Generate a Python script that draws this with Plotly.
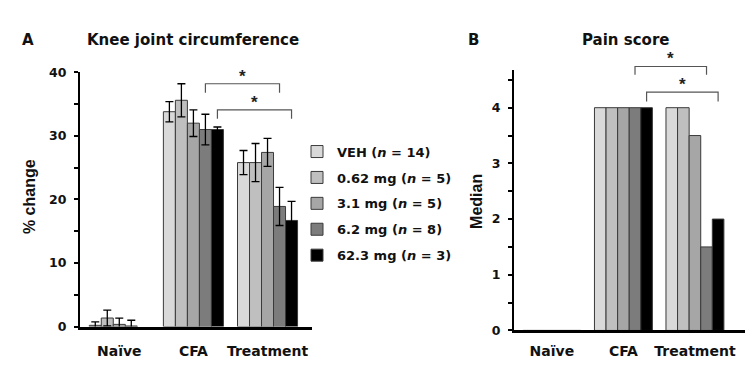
import plotly.graph_objects as go

W, H = 754, 372

groups = ["Naïve", "CFA", "Treatment"]
series_names = ["VEH (<i>n</i> = 14)", "0.62 mg (<i>n</i> = 5)", "3.1 mg (<i>n</i> = 5)",
                "6.2 mg (<i>n</i> = 8)", "62.3 mg (<i>n</i> = 3)"]
colors = ["#d9d9d9", "#bfbfbf", "#a6a6a6", "#7c7c7c", "#000000"]

# Panel A: knee joint circumference, % change (mean ± error)
knee_veh = [0.2, 33.8, 25.8]
knee_062 = [1.35, 35.6, 25.8]
knee_31 = [0.35, 32.0, 27.4]
knee_62 = [0.1, 31.0, 18.9]
knee_623 = [None, 31.0, 16.7]
knee_err_veh = [0.55, 1.6, 1.9]
knee_err_062 = [1.25, 2.6, 3.0]
knee_err_31 = [1.0, 2.1, 2.2]
knee_err_62 = [0.9, 2.4, 3.0]
knee_err_623 = [None, 0.4, 3.0]

# Panel B: pain score, median
pain_veh = [0, 4, 4]
pain_062 = [0, 4, 4]
pain_31 = [0, 4, 3.5]
pain_62 = [0, 4, 1.5]
pain_623 = [0, 4, 2]

knee_vals = [knee_veh, knee_062, knee_31, knee_62, knee_623]
knee_errs = [knee_err_veh, knee_err_062, knee_err_31, knee_err_62, knee_err_623]
pain_vals = [pain_veh, pain_062, pain_31, pain_62, pain_623]

# significance brackets: (series index, from group, to group, bracket height, drop)
knee_sig = [(3, 1, 2, 38.2, 1.4), (4, 1, 2, 34.1, 1.4)]
pain_sig = [(3, 1, 2, 4.74, 0.15), (4, 1, 2, 4.28, 0.17)]

FONT = "DejaVu Sans"
FONT_NARROW = "Liberation Sans"
BARGAP = 0.19
A_YMAX = 40
B_YMAX = 4.67

A_dom_x = [80 / W, 312 / W]
A_dom_y = [1 - 332 / H, 1 - 67 / H]
B_dom_x = [514 / W, 745 / W]
B_dom_y = [1 - 336 / H, 1 - 65 / H]

fig = go.Figure()

for i in range(5):
    fig.add_trace(go.Bar(
        x=groups, y=knee_vals[i], name=series_names[i],
        marker=dict(color=colors[i], line=dict(color="#3a3a3a", width=1)),
        error_y=dict(type="data", array=knee_errs[i], color="black", thickness=1.3, width=4),
        xaxis="x", yaxis="y", legendgroup=f"g{i}", showlegend=True,
    ))
for i in range(5):
    fig.add_trace(go.Bar(
        x=groups, y=pain_vals[i], name=series_names[i],
        marker=dict(color=colors[i], line=dict(color="#3a3a3a", width=1)),
        xaxis="x2", yaxis="y2", legendgroup=f"g{i}", showlegend=False,
    ))

bw = (1 - BARGAP) / 5


def bar_x(group, idx):
    return group + (idx - 2) * bw


def to_paper(v, ymax, dom):
    return dom[0] + v / ymax * (dom[1] - dom[0])


shapes = []
annotations = []
for (sig, xr, ymax, dom) in [(knee_sig, "x", A_YMAX, A_dom_y), (pain_sig, "x2", B_YMAX, B_dom_y)]:
    for (si, g0, g1, h, d) in sig:
        x0, x1 = bar_x(g0, si), bar_x(g1, si)
        yt = to_paper(h, ymax, dom)
        yb = to_paper(h - d, ymax, dom)
        path = f"M{x0},{yb} L{x0},{yt} L{x1},{yt} L{x1},{yb}"
        shapes.append(dict(type="path", path=path, xref=xr, yref="paper",
                           line=dict(color="#555555", width=1.2)))
        annotations.append(dict(x=(x0 + x1) / 2, y=yt, xref=xr, yref="paper",
                                text="*", showarrow=False, yanchor="bottom", yshift=-4,
                                font=dict(family=FONT_NARROW, size=17, color="#222", weight="bold")))

title_font = dict(family=FONT, size=15, color="#111", weight="bold")
ytitle_font = dict(family=FONT_NARROW, size=16, color="#111", weight="bold")
annotations += [
    dict(x=20 / W, y=1 - 33 / H, xref="paper", yref="paper", text="A", showarrow=False,
         xanchor="left", yanchor="middle", font=title_font),
    dict(x=193 / W, y=1 - 33 / H, xref="paper", yref="paper", text="Knee joint circumference",
         showarrow=False, xanchor="center", yanchor="middle", font=title_font),
    dict(x=466 / W, y=1 - 33 / H, xref="paper", yref="paper", text="B", showarrow=False,
         xanchor="left", yanchor="middle", font=title_font),
    dict(x=625 / W, y=1 - 33 / H, xref="paper", yref="paper", text="Pain score",
         showarrow=False, xanchor="center", yanchor="middle", font=title_font),
    dict(x=29 / W, y=1 - 197 / H, xref="paper", yref="paper", text="% change", textangle=-90,
         showarrow=False, xanchor="center", yanchor="middle", font=ytitle_font),
    dict(x=477 / W, y=1 - 201 / H, xref="paper", yref="paper", text="Median", textangle=-90,
         showarrow=False, xanchor="center", yanchor="middle", font=ytitle_font),
]

xtick_font = dict(family=FONT, size=14, color="#111", weight="bold")
ytick_font = dict(family=FONT, size=12.5, color="#111", weight="bold")

xcommon = dict(type="category", showline=True, linecolor="black", linewidth=2.5,
               ticks="", showgrid=False, zeroline=False, tickfont=xtick_font, fixedrange=True)
ycommon = dict(showline=True, linecolor="black", linewidth=2, ticks="outside", ticklen=4,
               tickwidth=1.5, tickcolor="black", showgrid=False, zeroline=False,
               tickfont=ytick_font, ticklabelstandoff=5, fixedrange=True)

fig.update_layout(
    width=W, height=H,
    margin=dict(l=0, r=0, t=0, b=0),
    paper_bgcolor="white", plot_bgcolor="white",
    barmode="group", bargap=BARGAP, bargroupgap=0,
    xaxis=dict(domain=A_dom_x, range=[-0.53, 2.60], anchor="y", ticklabelstandoff=10, **xcommon),
    yaxis=dict(domain=A_dom_y, range=[0, A_YMAX], dtick=10, anchor="x",
               minor=dict(dtick=5, ticks="outside", ticklen=4, tickcolor="black", tickwidth=1.5),
               **ycommon),
    xaxis2=dict(domain=B_dom_x, range=[-0.53, 2.70], anchor="y2", ticklabelstandoff=6, **xcommon),
    yaxis2=dict(domain=B_dom_y, range=[0, B_YMAX], dtick=1, anchor="x2",
                minor=dict(dtick=0.5, ticks="outside", ticklen=4, tickcolor="black", tickwidth=1.5),
                **ycommon),
    legend=dict(x=297 / W, y=1 - 134 / H, xanchor="left", yanchor="top",
                font=dict(family=FONT, size=13, color="#111", weight="bold"),
                tracegroupgap=6, bgcolor="rgba(0,0,0,0)"),
    shapes=shapes,
    annotations=annotations,
    showlegend=True,
)

fig.write_html("out.html", config={"displayModeBar": False},
               post_script="document.body.style.margin='0px';")
